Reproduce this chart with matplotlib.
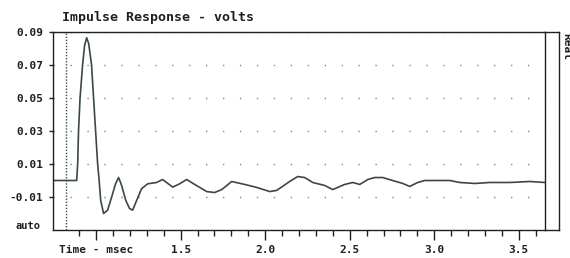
import matplotlib.pyplot as plt
import numpy as np

# impulse response (time in msec, volts)
time_ms = [0.743, 0.885, 0.891, 0.896, 0.905, 0.920, 0.932, 0.944, 0.956, 0.973,
           0.985, 0.997, 1.009, 1.018, 1.027, 1.044, 1.068, 1.092, 1.115, 1.133,
           1.151, 1.175, 1.198, 1.216, 1.240, 1.269, 1.305, 1.358, 1.393, 1.453,
           1.494, 1.536, 1.583, 1.654, 1.701, 1.743, 1.802, 1.879, 1.950, 2.027,
           2.068, 2.145, 2.192, 2.234, 2.281, 2.352, 2.399, 2.470, 2.518, 2.559,
           2.607, 2.648, 2.695, 2.754, 2.814, 2.855, 2.902, 2.944, 3.092, 3.151,
           3.240, 3.328, 3.447, 3.565, 3.654]
volts = [0.0, 0.0, 0.010, 0.030, 0.050, 0.070, 0.082, 0.0865, 0.083, 0.070,
         0.050, 0.030, 0.010, 0.0, -0.012, -0.020, -0.018, -0.010, -0.002, 0.0018,
         -0.003, -0.012, -0.017, -0.018, -0.012, -0.005, -0.002, -0.0012, 0.0006, -0.004,
         -0.002, 0.0006, -0.0024, -0.0067, -0.0073, -0.0055, -0.0006, -0.0024, -0.0042, -0.0067,
         -0.006, -0.0006, 0.0024, 0.0018, -0.0012, -0.003, -0.0055, -0.0024, -0.0012, -0.0024,
         0.0006, 0.0018, 0.0018, 0.0, -0.0018, -0.0036, -0.0012, 0.0, 0.0, -0.0012,
         -0.0018, -0.0012, -0.0012, -0.0006, -0.0012]

y_ticks = [0.09, 0.07, 0.05, 0.03, 0.01, -0.01]
y_labels = ['0.09', '0.07', '0.05', '0.03', '0.01', '-0.01']
x_ticks = [1.0, 1.5, 2.0, 2.5, 3.0, 3.5]
x_labels = ['Time - msec', '1.5', '2.0', '2.5', '3.0', '3.5']
x_minor = np.arange(0.9, 3.65, 0.1)
marker_t = 0.82

ink = '#1c221c'
trace = '#3b4a3d'
mono = 'DejaVu Sans Mono'

fig = plt.figure(figsize=(5.7, 2.58), dpi=100)
ax = fig.add_axes([53/570, 28/258, 492/570, 198/258])

ax.plot(time_ms, volts, color=trace, lw=1.2)
ax.axvline(marker_t, color=trace, lw=1.0, ls=(0, (1, 1.2)))

ax.set_xlim(0.745, 3.655)
ax.set_ylim(-0.03, 0.09)
ax.set_yticks(y_ticks)
ax.set_yticklabels(y_labels, fontfamily=mono, fontweight='bold', fontsize=8, color=ink)
ax.set_xticks(x_ticks)
ax.set_xticklabels(x_labels, fontfamily=mono, fontweight='bold', fontsize=8, color=ink)
ax.set_xticks(x_minor, minor=True)
ax.tick_params(axis='x', which='major', length=7, width=1, color=ink, pad=4)
ax.tick_params(axis='x', which='minor', length=4, width=1, color=ink)
ax.tick_params(axis='y', length=3, width=1, color=ink, pad=4)

ax.grid(axis='y', color='#808880', lw=1.0, ls=(0, (1, 11.2)))
for s in ax.spines.values():
    s.set_color(ink)
    s.set_linewidth(1.0)

ax.text(-0.025, -0.0273, 'auto', transform=ax.get_yaxis_transform(), ha='right', va='center',
        fontfamily=mono, fontweight='bold', fontsize=7.5, color=ink)

# narrow side panel on the right
side = fig.add_axes([545/570, 28/258, 14/570, 198/258])
side.patch.set_visible(False)
side.set_xticks([])
side.set_yticks([])
side.spines['left'].set_visible(False)
for s in side.spines.values():
    s.set_color(ink)
    s.set_linewidth(1.0)

fig.text(62/570, 1 - 18/258, 'Impulse Response - volts', ha='left', va='center',
         fontfamily=mono, fontweight='bold', fontsize=9.5, color=ink)
fig.text(561/570, 1 - 33/258, 'Real', rotation=-90, ha='left', va='top',
         fontfamily=mono, fontweight='bold', fontsize=8, color=ink)

fig.savefig('out.png', dpi=100, facecolor='white')
